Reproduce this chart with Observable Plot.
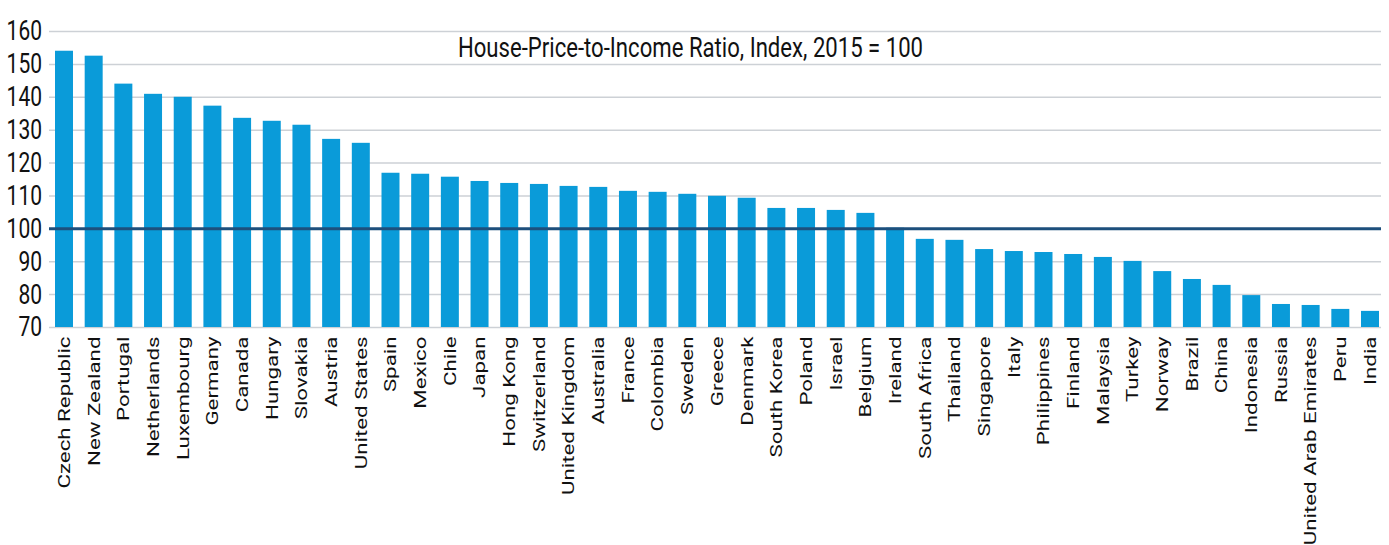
<!DOCTYPE html>
<html><head><meta charset="utf-8">
<script src="https://cdn.jsdelivr.net/npm/d3@7"></script>
<script src="https://cdn.jsdelivr.net/npm/@observablehq/plot@0.6"></script>
<style>body{margin:0;background:#fff}</style>
</head><body><div id="chart"></div>
<script>
const countries = ["Czech Republic","New Zealand","Portugal","Netherlands","Luxembourg","Germany","Canada","Hungary","Slovakia","Austria","United States","Spain","Mexico","Chile","Japan","Hong Kong","Switzerland","United Kingdom","Australia","France","Colombia","Sweden","Greece","Denmark","South Korea","Poland","Israel","Belgium","Ireland","South Africa","Thailand","Singapore","Italy","Philippines","Finland","Malaysia","Turkey","Norway","Brazil","China","Indonesia","Russia","United Arab Emirates","Peru","India"];
const values = [154.0,152.5,144.0,140.9,140.0,137.3,133.6,132.7,131.5,127.2,126.0,116.9,116.6,115.7,114.4,113.8,113.5,112.9,112.6,111.4,111.1,110.5,109.9,109.3,106.2,106.2,105.6,104.7,100.2,96.8,96.5,93.7,93.1,92.8,92.2,91.3,90.1,87.0,84.6,82.8,79.7,77.0,76.7,75.5,74.9];
const yTicks = [70,80,90,100,110,120,130,140,150,160];
const baseline = 100;
const title = "House-Price-to-Income Ratio, Index, 2015 = 100";
const data = countries.map((c, i) => ({country: c, value: values[i]}));
const font = "Roboto, 'Liberation Sans', sans-serif";
const chart = Plot.plot({
  width: 1389, height: 545,
  marginTop: 31, marginBottom: 218, marginLeft: 49, marginRight: 8,
  style: {background: "#fff", color: "#111", fontFamily: font},
  x: {domain: countries, range: [55, 1379], paddingInner: 0.394, paddingOuter: 0, label: null},
  y: {domain: [70, 160], label: null},
  marks: [
    Plot.gridY(yTicks, {stroke: "#cdd1d6", strokeOpacity: 1, strokeWidth: 1.5}),
    Plot.barY(data, {x: "country", y1: () => 70, y2: "value", fill: "#0a9bd9"}),
    Plot.ruleY([baseline], {stroke: "#1d4f7c", strokeWidth: 3}),
    Plot.text([title], {frameAnchor: "top", dx: -25, dy: 6, lineAnchor: "top", fontSize: 27, fontFamily: font, fill: "#111"}),
    Plot.axisY(yTicks, {tickSize: 0, tickPadding: 7.5, fontSize: 28, fontFamily: font, fill: "#111", label: null}),
    Plot.axisX({tickSize: 0, tickPadding: 9, tickRotate: -90, fontSize: 22.3, fontFamily: font, fill: "#111", label: null})
  ]
});
document.getElementById("chart").append(chart);
// horizontally condensed lettering, as in the reference
function squish(nodes, sx, sy) {
  nodes.forEach(node => {
    const t = node.getAttribute("transform") || "";
    node.setAttribute("transform", (t + ` scale(${sx},${sy})`).trim());
  });
}
const allText = Array.from(chart.querySelectorAll("text"));
squish(Array.from(chart.querySelectorAll('g[aria-label="y-axis tick label"] text')), 0.75, 1);
squish(allText.filter(n => n.textContent === title), 0.82, 1);
squish(Array.from(chart.querySelectorAll('g[aria-label="x-axis tick label"] text')), 1, 0.75);
</script>
</body></html>
